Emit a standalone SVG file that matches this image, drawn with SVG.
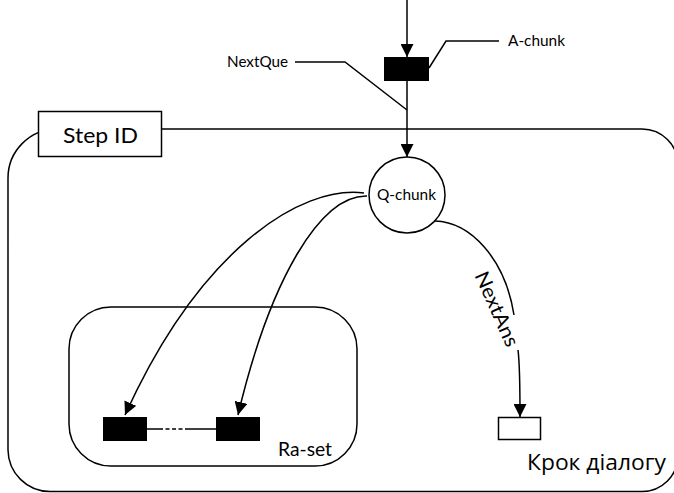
<svg xmlns="http://www.w3.org/2000/svg" width="674" height="493" viewBox="0 0 674 493">
  <style>
    .ln { fill: none; stroke: #000; stroke-width: 1.5; }
    .box { fill: #fff; stroke: #000; stroke-width: 1.5; }
    .blk { fill: #000; stroke: #000; stroke-width: 1; }
    text { font-family: Lato, "Open Sans", "DejaVu Sans", sans-serif; fill: #000; }
    .cyr { font-family: "Open Sans", "Noto Sans", "DejaVu Sans", sans-serif; }
  </style>
  <defs>
    <marker id="arrow" markerUnits="userSpaceOnUse" markerWidth="14" markerHeight="13" refX="13" refY="6.5" orient="auto">
      <path d="M0,0 L13,6.5 L0,13 Z" fill="#000"/>
    </marker>
  </defs>

  <!-- dialogue step boundary -->
  <g id="step">
    <path class="ln" d="M57,129 L642,129 A36,36 0 0 1 678,165 L678,455.5 A36,36 0 0 1 642,491.5 L50,491.5 A42,42 0 0 1 8,450 L8,178 A49,49 0 0 1 57,129 Z"/>
    <text class="cyr" x="527" y="470" font-size="21" textLength="139" lengthAdjust="spacingAndGlyphs">Крок діалогу</text>
  </g>

  <!-- step identifier tab -->
  <g id="step-id">
    <rect class="box" x="38.5" y="111.5" width="123" height="45"/>
    <text x="63" y="143" font-size="22" textLength="75" lengthAdjust="spacingAndGlyphs">Step ID</text>
  </g>

  <!-- answer set container -->
  <g id="ra-set">
    <rect class="ln" x="69" y="307" width="288" height="159" rx="42" ry="42"/>
    <text x="278" y="456" font-size="19" textLength="54" lengthAdjust="spacingAndGlyphs">Ra-set</text>
  </g>

  <g id="connectors">
    <!-- incoming flow into A-chunk -->
    <path class="ln" d="M407,0 L407,57" marker-end="url(#arrow)"/>
    <!-- A-chunk down to Q-chunk -->
    <path class="ln" d="M407,81 L407,157" marker-end="url(#arrow)"/>
    <!-- Q-chunk to answers -->
    <path class="ln" d="M364,193 C300,185 200,250 125,415" marker-end="url(#arrow)"/>
    <path class="ln" d="M367,196 C320,195 270,280 238,415" marker-end="url(#arrow)"/>
    <!-- NextAns branch -->
    <path class="ln" d="M435,221 C470,222 505,258 514,315"/>
    <path class="ln" d="M518,350 C520,365 520,385 520,417" marker-end="url(#arrow)"/>
    <!-- link between answer chunks -->
    <path class="ln" d="M147,429 L159,429"/>
    <path class="ln" d="M159,429 L187,429" stroke-dasharray="4,2.5"/>
    <path class="ln" d="M187,429 L216,429"/>
    <!-- callout leaders -->
    <path class="ln" d="M295,62 L345,62 L407,110"/>
    <path class="ln" d="M429,68 L446,41 L499,41"/>
  </g>

  <g id="nextque-label">
    <text x="227" y="67" font-size="15" textLength="61" lengthAdjust="spacingAndGlyphs">NextQue</text>
  </g>

  <g id="a-chunk">
    <rect class="blk" x="384.5" y="57.5" width="44" height="23"/>
    <text x="508" y="46" font-size="15" textLength="57" lengthAdjust="spacingAndGlyphs">A-chunk</text>
  </g>

  <g id="q-chunk">
    <circle class="box" cx="407" cy="195" r="38"/>
    <text x="377" y="200" font-size="15" textLength="59" lengthAdjust="spacingAndGlyphs">Q-chunk</text>
  </g>

  <g id="nextans-label">
    <text transform="translate(497,309) rotate(66)" x="0" y="7" font-size="20" text-anchor="middle" textLength="80" lengthAdjust="spacingAndGlyphs">NextAns</text>
  </g>

  <g id="answer-first">
    <rect class="blk" x="103.5" y="417.5" width="43" height="23"/>
  </g>
  <g id="answer-last">
    <rect class="blk" x="216.5" y="417.5" width="43" height="23"/>
  </g>
  <g id="next-answer">
    <rect class="box" x="498.5" y="417.5" width="42" height="22"/>
  </g>
</svg>
